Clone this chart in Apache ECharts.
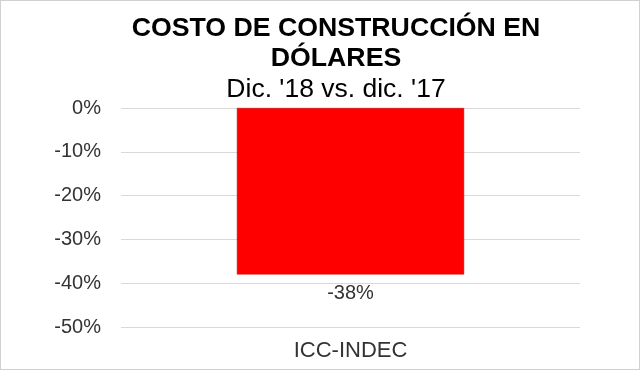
<!DOCTYPE html>
<html><head><meta charset="utf-8">
<script src="https://cdn.jsdelivr.net/npm/echarts@6/dist/echarts.min.js"></script>
<style>html,body{margin:0;padding:0;background:#fff}#c{width:638px;height:368px;border:1px solid #d0d0d0}</style>
</head><body><div id="c"></div>
<script>
const categories = ['ICC-INDEC'];
const values = [-38];
const yTicks = [0, -10, -20, -30, -40, -50];
const titleText = 'COSTO DE CONSTRUCCIÓN EN\nDÓLARES';
const subtitleText = "Dic. '18 vs. dic. '17";

const chart = echarts.init(document.getElementById('c'));
chart.setOption({
  animation: false,
  title: {
    text: titleText,
    subtext: subtitleText,
    left: 330, textAlign: 'center', top: 8,
    itemGap: 2,
    textStyle: {fontFamily: 'Liberation Sans', fontSize: 26.7, fontWeight: 'bold', color: '#000', lineHeight: 30},
    subtextStyle: {fontFamily: 'Liberation Sans', fontSize: 26.5, color: '#000', lineHeight: 28}
  },
  grid: {left: 120, right: 59, top: 107, bottom: 42, containLabel: false},
  xAxis: {
    type: 'category', data: categories, position: 'bottom',
    axisLine: {show: false, onZero: false}, axisTick: {show: false},
    axisLabel: {fontFamily: 'Liberation Sans', fontSize: 22, color: '#333', margin: 13}
  },
  yAxis: {
    type: 'value', min: yTicks[yTicks.length-1], max: yTicks[0], interval: 10,
    axisLine: {show: false}, axisTick: {show: false},
    splitLine: {lineStyle: {color: '#d9d9d9', width: 1}},
    axisLabel: {formatter: v => v + '%', fontFamily: 'Liberation Sans', fontSize: 20, color: '#333', margin: 20}
  },
  series: [{
    type: 'bar', data: values, barWidth: '49.5%',
    itemStyle: {color: '#ff0000', borderColor: '#c00000', borderWidth: 0.5},
    label: {show: true, position: 'bottom', distance: 9, formatter: p => p.value + '%', fontFamily: 'Liberation Sans', fontSize: 20, color: '#333'}
  }]
});
</script></body></html>
